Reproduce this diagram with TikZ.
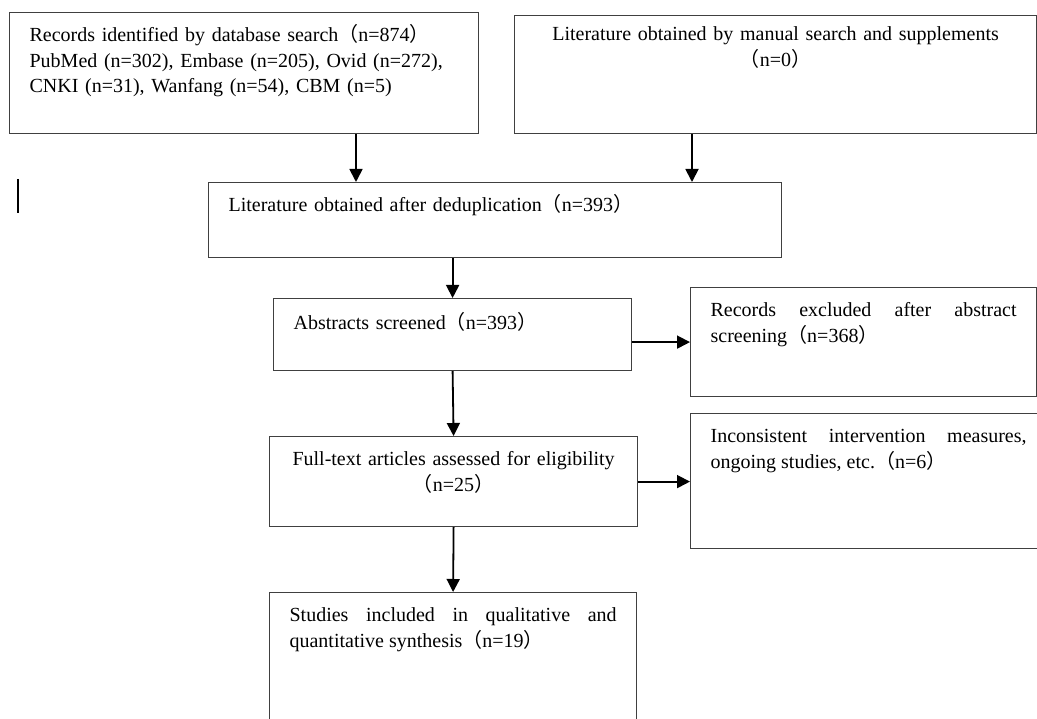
\documentclass[tikz,border=0pt]{standalone}
\usepackage{fontspec}
\setmainfont{Liberation Serif}
\newfontfamily\cjk{Noto Sans CJK SC}
\usetikzlibrary{arrows.meta, positioning}
\newcommand{\fwl}{{\cjk （}}
\newcommand{\fwr}{{\cjk ）}}
\tolerance=10000 \hyphenpenalty=10000 \hbadness=10000

\tikzset{
  box/.style={draw=black!75, line width=1.2pt, anchor=north west, inner xsep=20pt, inner ysep=10pt,
    text height=19pt, font=\fontsize{20}{25.5}\selectfont},
  arr/.style={-{Triangle[length=13pt,width=13pt]}, line width=1.8pt},
}

\begin{document}
\begin{tikzpicture}[x=1pt, y=-1pt]
\useasboundingbox (0,0) rectangle (1037,719);
%top row
\node[box, text width=429pt, text depth=82pt, align=left] (rec) at (9,12)
  {Records identified by database search\fwl n=874\fwr\\
   PubMed (n=302), Embase (n=205), Ovid (n=272),\\
   CNKI (n=31), Wanfang (n=54), CBM (n=5)};
\node[box, text width=482pt, text height=15pt, text depth=83pt, align=center] (manual) at (514,15)
  {Literature obtained by manual search and supplements\\ \fwl n=0\fwr};
%main column
\node[box, text width=533pt, text depth=36pt, align=left] (dedup) at (208,182)
  {Literature obtained after deduplication\fwl n=393\fwr};
\node[box, text width=318pt, text height=21pt, text depth=31pt, align=left] (abs) at (273,298)
  {Abstracts screened\fwl n=393\fwr};
\node[box, text width=328pt, text depth=51pt, align=center] (full) at (269,436)
  {Full-text articles assessed for eligibility\\ \fwl n=25\fwr};
\node[box, text width=327pt, text depth=111pt, align=justify] (incl) at (269,592)
  {Studies included in qualitative and quantitative synthesis\fwl n=19\fwr};
%excluded (right)
\node[box, text width=306pt, text depth=70pt, align=justify] (excl1) at (690,287)
  {Records excluded after abstract screening\fwl n=368\fwr};
\node[box, text width=316pt, text depth=96pt, align=justify] (excl2) at (690,413)
  {Inconsistent intervention measures, ongoing studies, etc.\fwl n=6\fwr};
%arrows
\coordinate (j1) at (356,0);
\coordinate (j2) at (692,0);
\draw[arr] (rec.south -| j1) -- (dedup.north -| j1);
\draw[arr] (manual.south -| j2) -- (dedup.north -| j2);
\draw[arr] (dedup.south -| abs.north) -- (abs.north);
\draw[arr] (abs.east |- excl1.west) -- (excl1.west);
\draw[arr] (abs.south) -- (full.north);
\draw[arr] (full.east) -- (full.east -| excl2.west);
\draw[arr] (full.south) -- (incl.north);
\draw[line width=1.2pt] (18,179) -- (18,213);
\end{tikzpicture}
\end{document}
